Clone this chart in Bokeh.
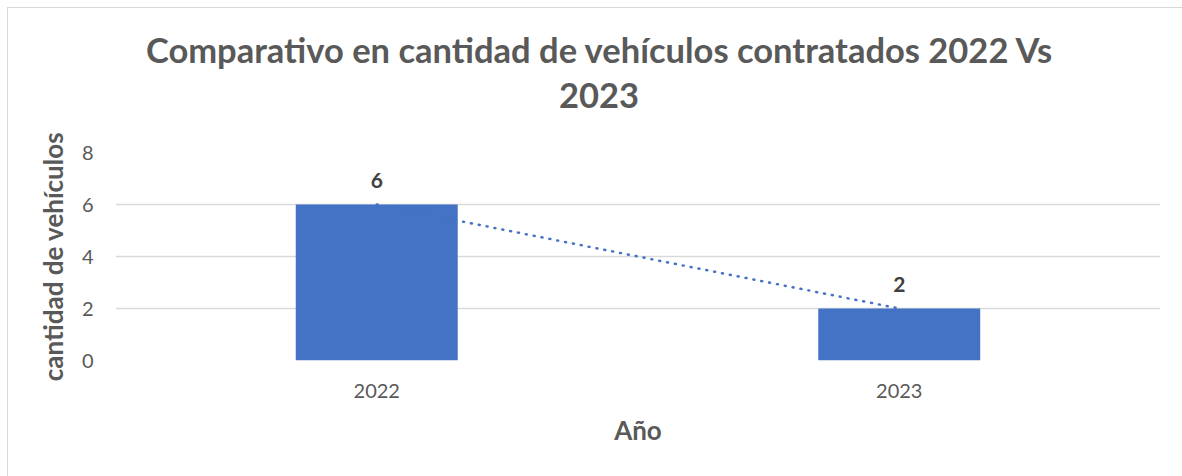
import numpy as np
from bokeh.plotting import figure
from bokeh.layouts import column
from bokeh.models import FactorRange, Range1d, ColumnDataSource, FixedTicker, LabelSet, Div
from bokeh.core.properties import value
from bokeh.embed import file_html
from bokeh.resources import INLINE

years = ["2022", "2023"]
counts = [6, 2]
title_lines = ["Comparativo en cantidad de vehículos contratados 2022 Vs", "2023"]
y_ticks = [0, 2, 4, 6, 8]
x_label = "Año"
y_label = "cantidad de vehículos"

FONT = "Lato"
BLUE = "#4472C4"
GRAY = "#595959"

title_div = Div(
    text="<br>".join(title_lines), width=1174, height=104,
    styles={"font-family": FONT, "font-weight": "bold", "font-size": "34.5px",
            "color": GRAY, "line-height": "45px", "text-align": "center",
            "padding-top": "19px", "padding-left": "8px", "box-sizing": "border-box",
            "width": "1174px", "height": "104px", "margin": "0", "overflow": "visible"})

p = figure(width=1174, height=364, x_range=FactorRange(*years, range_padding=0),
           y_range=Range1d(0, 8), output_backend="svg", toolbar_location=None,
           min_border_left=107, min_border_right=22, min_border_top=40, min_border_bottom=116)
p.title.visible = False
p.outline_line_color = None
p.background_fill_color = "white"
p.border_fill_color = None

src = ColumnDataSource(dict(year=years, count=counts, label=[str(c) for c in counts]))
p.vbar(x="year", top="count", width=0.31, source=src, fill_color=BLUE, line_color=None)

xs = np.arange(1, len(counts) + 1)
slope, intercept = np.polyfit(xs, counts, 1)
trend = slope * xs + intercept
p.line(x=years, y=list(trend), line_color=BLUE, line_width=2.5, line_dash="1 7", line_cap="round")

labels = LabelSet(x="year", y="count", text="label", source=src, y_offset=17,
                  text_align="center", text_baseline="bottom", text_font=value(FONT),
                  text_font_style="bold", text_font_size="21px", text_color="#404040")
p.add_layout(labels)

# axes
p.yaxis.ticker = FixedTicker(ticks=y_ticks)
p.yaxis.axis_line_color = None
p.yaxis.major_tick_line_color = None
p.yaxis.minor_tick_line_color = None
p.yaxis.major_tick_out = 0
p.yaxis.major_tick_in = 0
p.yaxis.major_label_text_font = FONT
p.yaxis.major_label_text_font_size = "20px"
p.yaxis.major_label_text_color = GRAY
p.yaxis.major_label_standoff = 22
p.yaxis.axis_label = y_label
p.yaxis.axis_label_text_font = FONT
p.yaxis.axis_label_text_font_size = "26px"
p.yaxis.axis_label_text_font_style = "bold"
p.yaxis.axis_label_text_color = GRAY
p.yaxis.axis_label_standoff = 10

p.xaxis.axis_line_color = None
p.xaxis.major_tick_line_color = None
p.xaxis.minor_tick_line_color = None
p.xaxis.major_tick_out = 0
p.xaxis.major_tick_in = 0
p.xaxis.major_label_text_font = FONT
p.xaxis.major_label_text_font_size = "20px"
p.xaxis.major_label_text_color = GRAY
p.xaxis.major_label_standoff = 23
p.xaxis.axis_label = x_label
p.xaxis.axis_label_text_font = FONT
p.xaxis.axis_label_text_font_size = "26px"
p.xaxis.axis_label_text_font_style = "bold"
p.xaxis.axis_label_text_color = GRAY
p.xaxis.axis_label_standoff = 13

p.xgrid.grid_line_color = None
p.ygrid.grid_line_color = "#d9d9d9"
p.ygrid.grid_line_width = 1.5

layout = column(title_div, p, spacing=0)
layout.styles = {"margin-left": "7px", "margin-top": "7px",
                 "border-left": "1px solid #d9d9d9", "border-top": "1px solid #d9d9d9",
                 "background-color": "white"}

open("out.html", "w").write(file_html(layout, INLINE))
